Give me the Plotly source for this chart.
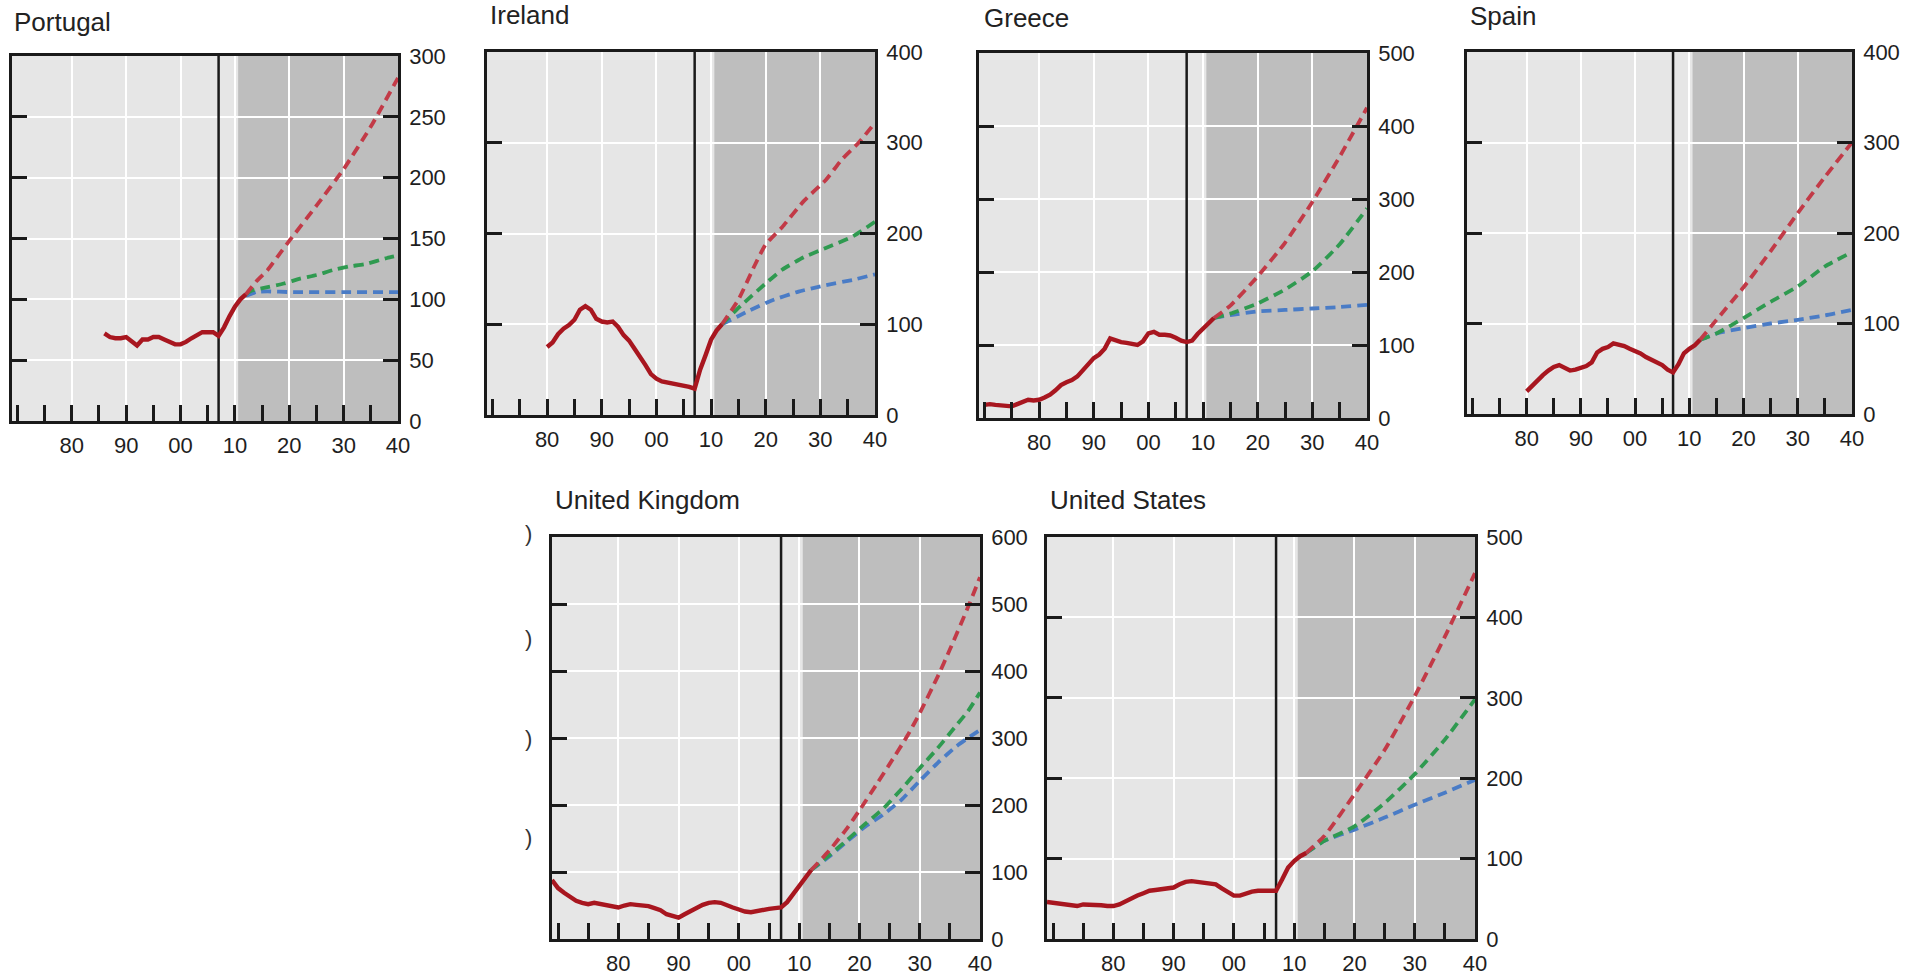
import plotly.graph_objects as go

# ---------------- DATA ----------------
# Portugal
pt_hist_years = list(range(1986, 2013))
pt_hist = [72, 69, 68, 68, 69, 66, 62, 67, 67, 69, 69, 67, 65, 63, 63, 65, 68, 71, 73, 73, 73, 70, 77, 86, 94, 100, 104]
pt_proj_years = [2012, 2014, 2016, 2018, 2020, 2025, 2030, 2035, 2040]
pt_red = [104, 115, 124, 136, 148, 177, 207, 242, 282]
pt_green_years = [2012, 2013, 2016, 2019, 2022, 2025, 2028, 2031, 2034, 2038, 2040]
pt_green = [104, 107, 110, 113, 117, 120, 124, 127, 129, 134, 136]
pt_blue_years = [2012, 2014, 2016, 2020, 2030, 2040]
pt_blue = [103, 106, 106.5, 106, 106, 106]

# Ireland
ie_hist_years = list(range(1980, 2013))
ie_hist = [75, 80, 89, 95, 99, 105, 116, 120, 116, 106, 103, 102, 103, 97, 88, 82, 73, 65, 55, 45, 40, 37, 36, 35, 34, 33, 31, 29, 50, 66, 83, 93, 100]
ie_red_years = [2012, 2015, 2018, 2020, 2023, 2027, 2031, 2034, 2037, 2040]
ie_red = [100, 127, 165, 188, 207, 236, 259, 282, 300, 322]
ie_green_years = [2012, 2015, 2020, 2023, 2027, 2031, 2036, 2040]
ie_green = [100, 118, 145, 160, 174, 184, 197, 213]
ie_blue_years = [2012, 2017, 2021, 2026, 2031, 2036, 2040]
ie_blue = [100, 115, 126, 136, 143, 149, 155]

# Greece
gr_hist_years = list(range(1970, 2013))
gr_hist = [18, 19, 18, 17, 17, 16, 19, 22, 25, 24, 25, 28, 32, 38, 45, 49, 52, 57, 65, 73, 82, 87, 95, 109, 106, 104, 103, 102, 100, 105, 116, 118, 114, 114, 113, 110, 106, 104, 106, 115, 123, 130, 137]
gr_proj_years = [2012, 2015, 2020, 2025, 2030, 2035, 2040]
gr_red = [137, 154, 194, 240, 296, 358, 425]
gr_green = [137, 143, 157, 176, 201, 238, 287]
gr_blue = [137, 141, 146, 148, 150, 152, 155]

# Spain
es_hist_years = list(range(1980, 2013))
es_hist = [25, 31, 38, 43, 48, 52, 54, 51, 48, 49, 51, 53, 57, 68, 72, 74, 78, 77, 75, 72, 70, 67, 63, 60, 57, 54, 49, 46, 55, 67, 72, 76, 82]
es_proj_years = [2012, 2015, 2020, 2025, 2030, 2035, 2040]
es_red = [82, 104, 140, 180, 222, 262, 300]
es_green = [82, 89, 106, 124, 141, 163, 179]
es_blue = [82, 89, 95, 100, 104, 109, 115]

# United Kingdom
uk_hist_years = list(range(1969, 2013))
uk_hist = [88, 76, 69, 62, 57, 54, 52, 54, 52, 50, 48, 47, 50, 52, 51, 50, 49, 46, 43, 37, 34, 32, 37, 42, 47, 51, 54, 55, 54, 50, 47, 44, 41, 40, 42, 44, 45, 46, 47, 55, 67, 80, 92, 103]
uk_red_years = [2012, 2015, 2018, 2020, 2023, 2025, 2028, 2030, 2033, 2035, 2038, 2040]
uk_red = [103, 132, 166, 192, 233, 261, 304, 337, 392, 432, 495, 540]
uk_proj_years = [2012, 2015, 2018, 2021, 2024, 2027, 2030, 2033, 2036, 2038, 2040]
uk_green = [103, 125, 148, 172, 195, 224, 255, 285, 318, 340, 368]
uk_blue = [103, 123, 146, 168, 186, 208, 236, 263, 287, 300, 312]

# United States
us_hist_years = list(range(1969, 2013))
us_hist = [46, 45, 45, 44, 42, 41, 43, 43, 43, 42, 41, 41, 43, 47, 51, 54, 57, 60, 61, 62, 63, 64, 68, 71, 72, 71, 70, 69, 68, 63, 58, 54, 54, 57, 59, 60, 60, 60, 60, 74, 89, 97, 103, 107]
us_proj_years = [2012, 2015, 2020, 2025, 2030, 2035, 2040]
us_red = [107, 128, 180, 235, 302, 376, 455]
us_green = [107, 122, 140, 169, 205, 248, 298]
us_blue = [107, 122, 136, 151, 167, 182, 198]

decade_vals = [1980, 1990, 2000, 2010, 2020, 2030, 2040]
decade_text = ["80", "90", "00", "10", "20", "30", "40"]
minor_vals = [1970, 1975, 1985, 1995, 2005, 2015, 2025, 2035]

# ---------------- STYLE ----------------
W, H = 1905, 975
FONT = "Arial, Liberation Sans, Helvetica, sans-serif"
C_HIST = "#a8161f"
C_RED = "#c23a47"
C_GREEN = "#2f9a50"
C_BLUE = "#4a7cc6"
BG_LIGHT = "#e6e6e6"
BG_DARK = "#bebebe"
AX = "#1a1a1a"

panels = [
    dict(name="Portugal", px=(12, 398), py=(56, 421), ymax=300, dt=50, title=(12, 22),
         hy=pt_hist_years, h=pt_hist,
         red=(pt_proj_years, pt_red), green=(pt_green_years, pt_green), blue=(pt_blue_years, pt_blue)),
    dict(name="Ireland", px=(487, 875), py=(52, 415), ymax=400, dt=100, title=(488, 15),
         hy=ie_hist_years, h=ie_hist,
         red=(ie_red_years, ie_red), green=(ie_green_years, ie_green), blue=(ie_blue_years, ie_blue)),
    dict(name="Greece", px=(979, 1367), py=(53, 418), ymax=500, dt=100, title=(982, 18),
         hy=gr_hist_years, h=gr_hist,
         red=(gr_proj_years, gr_red), green=(gr_proj_years, gr_green), blue=(gr_proj_years, gr_blue)),
    dict(name="Spain", px=(1467, 1852), py=(52, 414), ymax=400, dt=100, title=(1468, 16),
         hy=es_hist_years, h=es_hist,
         red=(es_proj_years, es_red), green=(es_proj_years, es_green), blue=(es_proj_years, es_blue)),
    dict(name="United Kingdom", px=(552, 980), py=(537, 939), ymax=600, dt=100, title=(553, 500),
         hy=uk_hist_years, h=uk_hist,
         red=(uk_red_years, uk_red), green=(uk_proj_years, uk_green), blue=(uk_proj_years, uk_blue)),
    dict(name="United States", px=(1047, 1475), py=(537, 939), ymax=500, dt=100, title=(1048, 500),
         hy=us_hist_years, h=us_hist,
         red=(us_proj_years, us_red), green=(us_proj_years, us_green), blue=(us_proj_years, us_blue)),
]

fig = go.Figure()
shapes = []
annotations = []
layout = {}

for i, p in enumerate(panels, start=1):
    xa = "x" if i == 1 else f"x{i}"
    ya = "y" if i == 1 else f"y{i}"
    xkey = "xaxis" if i == 1 else f"xaxis{i}"
    ykey = "yaxis" if i == 1 else f"yaxis{i}"
    x0, x1 = p["px"]
    ytop, ybot = p["py"]
    layout[xkey] = dict(
        domain=[x0 / W, x1 / W], anchor=ya, range=[1969, 2040], automargin=False,
        tickmode="array", tickvals=decade_vals, ticktext=decade_text,
        ticks="inside", ticklen=16, tickwidth=2.5, tickcolor=AX,
        showgrid=True, gridcolor="white", gridwidth=2,
        showline=True, linecolor=AX, linewidth=2.5, mirror=True,
        zeroline=False, ticklabelstandoff=3,
        tickfont=dict(family=FONT, size=22, color="#1e1e1e"),
        minor=dict(tickmode="array", tickvals=minor_vals, ticks="inside",
                   ticklen=16, tickwidth=2.5, tickcolor=AX, showgrid=False),
    )
    layout[ykey] = dict(
        domain=[1 - ybot / H, 1 - ytop / H], anchor=xa, range=[0, p["ymax"]], automargin=False,
        side="right", tickmode="linear", tick0=0, dtick=p["dt"],
        ticks="inside", ticklen=15, tickwidth=2.5, tickcolor=AX,
        showgrid=True, gridcolor="white", gridwidth=2,
        showline=True, linecolor=AX, linewidth=2.5, mirror="ticks",
        zeroline=False, ticklabelstandoff=4,
        tickfont=dict(family=FONT, size=22, color="#1e1e1e"),
    )
    # shaded projection period
    shapes.append(dict(type="rect", xref=xa, yref=ya, x0=2010.6, x1=2040, y0=0, y1=p["ymax"],
                       fillcolor=BG_DARK, line=dict(width=0), layer="below"))
    # vertical marker line
    shapes.append(dict(type="line", xref=xa, yref=ya, x0=2007, x1=2007, y0=0, y1=p["ymax"],
                       line=dict(color=AX, width=2.5), layer="between"))
    # traces
    for key, col in (("blue", C_BLUE), ("green", C_GREEN), ("red", C_RED)):
        xs, ys = p[key]
        fig.add_trace(go.Scatter(x=xs, y=ys, xaxis=xa, yaxis=ya, mode="lines",
                                 line=dict(color=col, width=3.8, dash="10px,6px", shape="spline", smoothing=0.5),
                                 showlegend=False, hoverinfo="skip"))
    fig.add_trace(go.Scatter(x=p["hy"], y=p["h"], xaxis=xa, yaxis=ya, mode="lines",
                             line=dict(color=C_HIST, width=4.4),
                             showlegend=False, hoverinfo="skip"))
    tx, ty = p["title"]
    annotations.append(dict(text=p["name"], xref="paper", yref="paper", x=tx / W, y=1 - ty / H,
                            xanchor="left", yanchor="middle", showarrow=False,
                            font=dict(family=FONT, size=26, color="#222")))

# cropped label fragments visible left of the UK panel
for fy in (533, 638, 738, 837):
    annotations.append(dict(text=")", xref="paper", yref="paper", x=528 / W, y=1 - fy / H,
                            xanchor="center", yanchor="middle", showarrow=False,
                            font=dict(family=FONT, size=22, color="#333")))

fig.update_layout(
    width=W, height=H, margin=dict(l=0, r=0, t=0, b=0, autoexpand=False),
    paper_bgcolor="white", plot_bgcolor=BG_LIGHT,
    shapes=shapes, annotations=annotations, showlegend=False,
    **layout,
)

fig.write_html("out.html", config={"displayModeBar": False},
               post_script="document.body.style.margin='0';document.body.style.overflow='hidden';")
